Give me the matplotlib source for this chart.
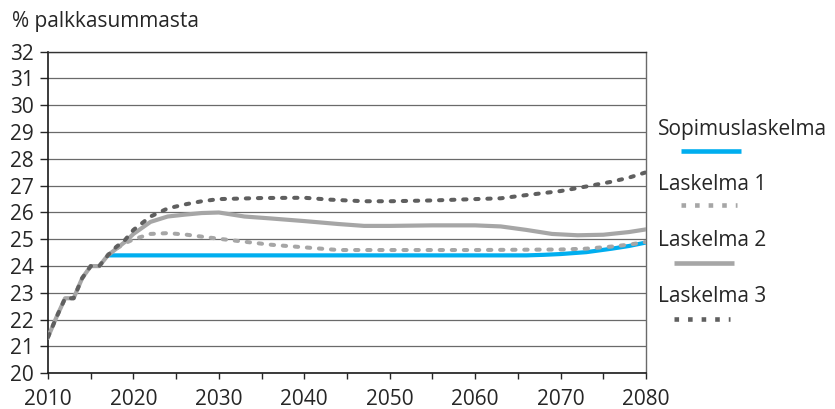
import matplotlib.pyplot as plt
from matplotlib.lines import Line2D
from matplotlib.ticker import MultipleLocator

plt.rcParams['font.family'] = ['Open Sans', 'DejaVu Sans']

# common history 2010-2017
base_years = [2010, 2011, 2012, 2013, 2014, 2015, 2016, 2017]
base_vals = [21.35, 22.1, 22.8, 22.8, 23.55, 24.0, 24.0, 24.4]

sop_years = [2017, 2030, 2050, 2066, 2068, 2070, 2073, 2076, 2078, 2080]
sop_vals = [24.4, 24.4, 24.4, 24.4, 24.42, 24.45, 24.52, 24.65, 24.75, 24.88]

l1_years = [2017, 2018, 2019, 2020, 2022, 2024, 2026, 2028, 2030, 2033, 2036,
            2040, 2044, 2050, 2060, 2070, 2073, 2076, 2078, 2080]
l1_vals = [24.4, 24.65, 24.85, 25.0, 25.2, 25.23, 25.18, 25.1, 25.02, 24.91, 24.8,
           24.7, 24.6, 24.6, 24.6, 24.62, 24.65, 24.73, 24.8, 24.9]

l2_years = [2017, 2018, 2019, 2020, 2022, 2024, 2026, 2028, 2030, 2033, 2036,
            2040, 2044, 2047, 2050, 2055, 2060, 2063, 2066, 2069, 2072, 2075, 2078, 2080]
l2_vals = [24.4, 24.65, 24.9, 25.2, 25.65, 25.85, 25.92, 25.98, 26.0, 25.85, 25.78,
           25.68, 25.57, 25.5, 25.5, 25.52, 25.52, 25.48, 25.35, 25.2, 25.15, 25.17, 25.27, 25.37]

l3_years = [2017, 2018, 2019, 2020, 2022, 2024, 2026, 2028, 2030, 2035, 2040,
            2043, 2047, 2050, 2055, 2060, 2063, 2066, 2070, 2073, 2076, 2078, 2080]
l3_vals = [24.4, 24.72, 24.97, 25.35, 25.85, 26.15, 26.3, 26.42, 26.5, 26.54, 26.55,
           26.48, 26.42, 26.42, 26.45, 26.5, 26.53, 26.65, 26.8, 26.97, 27.15, 27.3, 27.5]

labels = ['Sopimuslaskelma', 'Laskelma 1', 'Laskelma 2', 'Laskelma 3']
blue = '#00aeef'
light = '#a6a6a6'
dark = '#5f5f5f'
txt = '#262626'
fs = 15

fig = plt.figure(figsize=(8.35, 4.09), dpi=100)
ax = fig.add_axes([48 / 835, 1 - 373.3 / 409, (646 - 48) / 835, (373.3 - 51.7) / 409])

ax.plot(sop_years, sop_vals, color=blue, lw=3.0, solid_capstyle='butt', zorder=3)
ax.plot(l2_years, l2_vals, color=light, lw=3.0, solid_capstyle='round', zorder=4)
ax.plot(l1_years, l1_vals, color=light, lw=2.9, linestyle=(0, (0.83, 2.17)),
        dash_capstyle='round', zorder=5)
ax.plot(base_years, base_vals, color=light, lw=3.0, zorder=5)
ax.plot(base_years + l3_years[1:], base_vals + l3_vals[1:], color=dark, lw=2.9,
        linestyle=(0, (0.83, 2.17)), dash_capstyle='round', zorder=6)

ax.set_xlim(2010, 2080)
ax.set_ylim(20, 32)
ax.xaxis.set_major_locator(MultipleLocator(10))
ax.xaxis.set_minor_locator(MultipleLocator(5))
ax.yaxis.set_major_locator(MultipleLocator(1))
ax.grid(axis='y', color='#6a6a6a', lw=0.9, zorder=0)
ax.set_axisbelow(True)
ax.tick_params(axis='y', length=6, width=1, color=txt, pad=4, labelsize=fs, labelcolor=txt)
ax.tick_params(axis='x', which='both', length=4.5, width=1, color=txt, pad=6.5,
               labelsize=fs, labelcolor=txt)
for s in ['left', 'bottom']:
    ax.spines[s].set_color('#1a1a1a')
    ax.spines[s].set_linewidth(1.2)
ax.spines['right'].set_color('#6a6a6a')
ax.spines['right'].set_linewidth(1.0)
ax.spines['top'].set_color('#333333')
ax.spines['top'].set_linewidth(1.0)

fig.text(12 / 835, 1 - 22 / 409, '% palkkasummasta', fontsize=fs, color=txt,
         ha='left', va='center')

# legend drawn by hand to the right of the plot
W, H = 835, 409
leg = [
    (129, 150.5, 681, 741, blue, '-'),
    (184, 205.5, 681, 737, light, (0, (1, 1.96))),
    (240, 263, 674, 734, light, '-'),
    (296, 319, 674, 730, dark, (0, (1, 1.96))),
]
for lab, (ty, ly, x0, x1, c, ls) in zip(labels, leg):
    fig.text(658 / W, 1 - ty / H, lab, fontsize=fs, color=txt, ha='left', va='center')
    fig.add_artist(Line2D([x0 / W, x1 / W], [1 - ly / H, 1 - ly / H], color=c,
                          lw=3.3, linestyle=ls, solid_capstyle='butt',
                          dash_capstyle='butt'))

fig.savefig('out.png', dpi=100)
